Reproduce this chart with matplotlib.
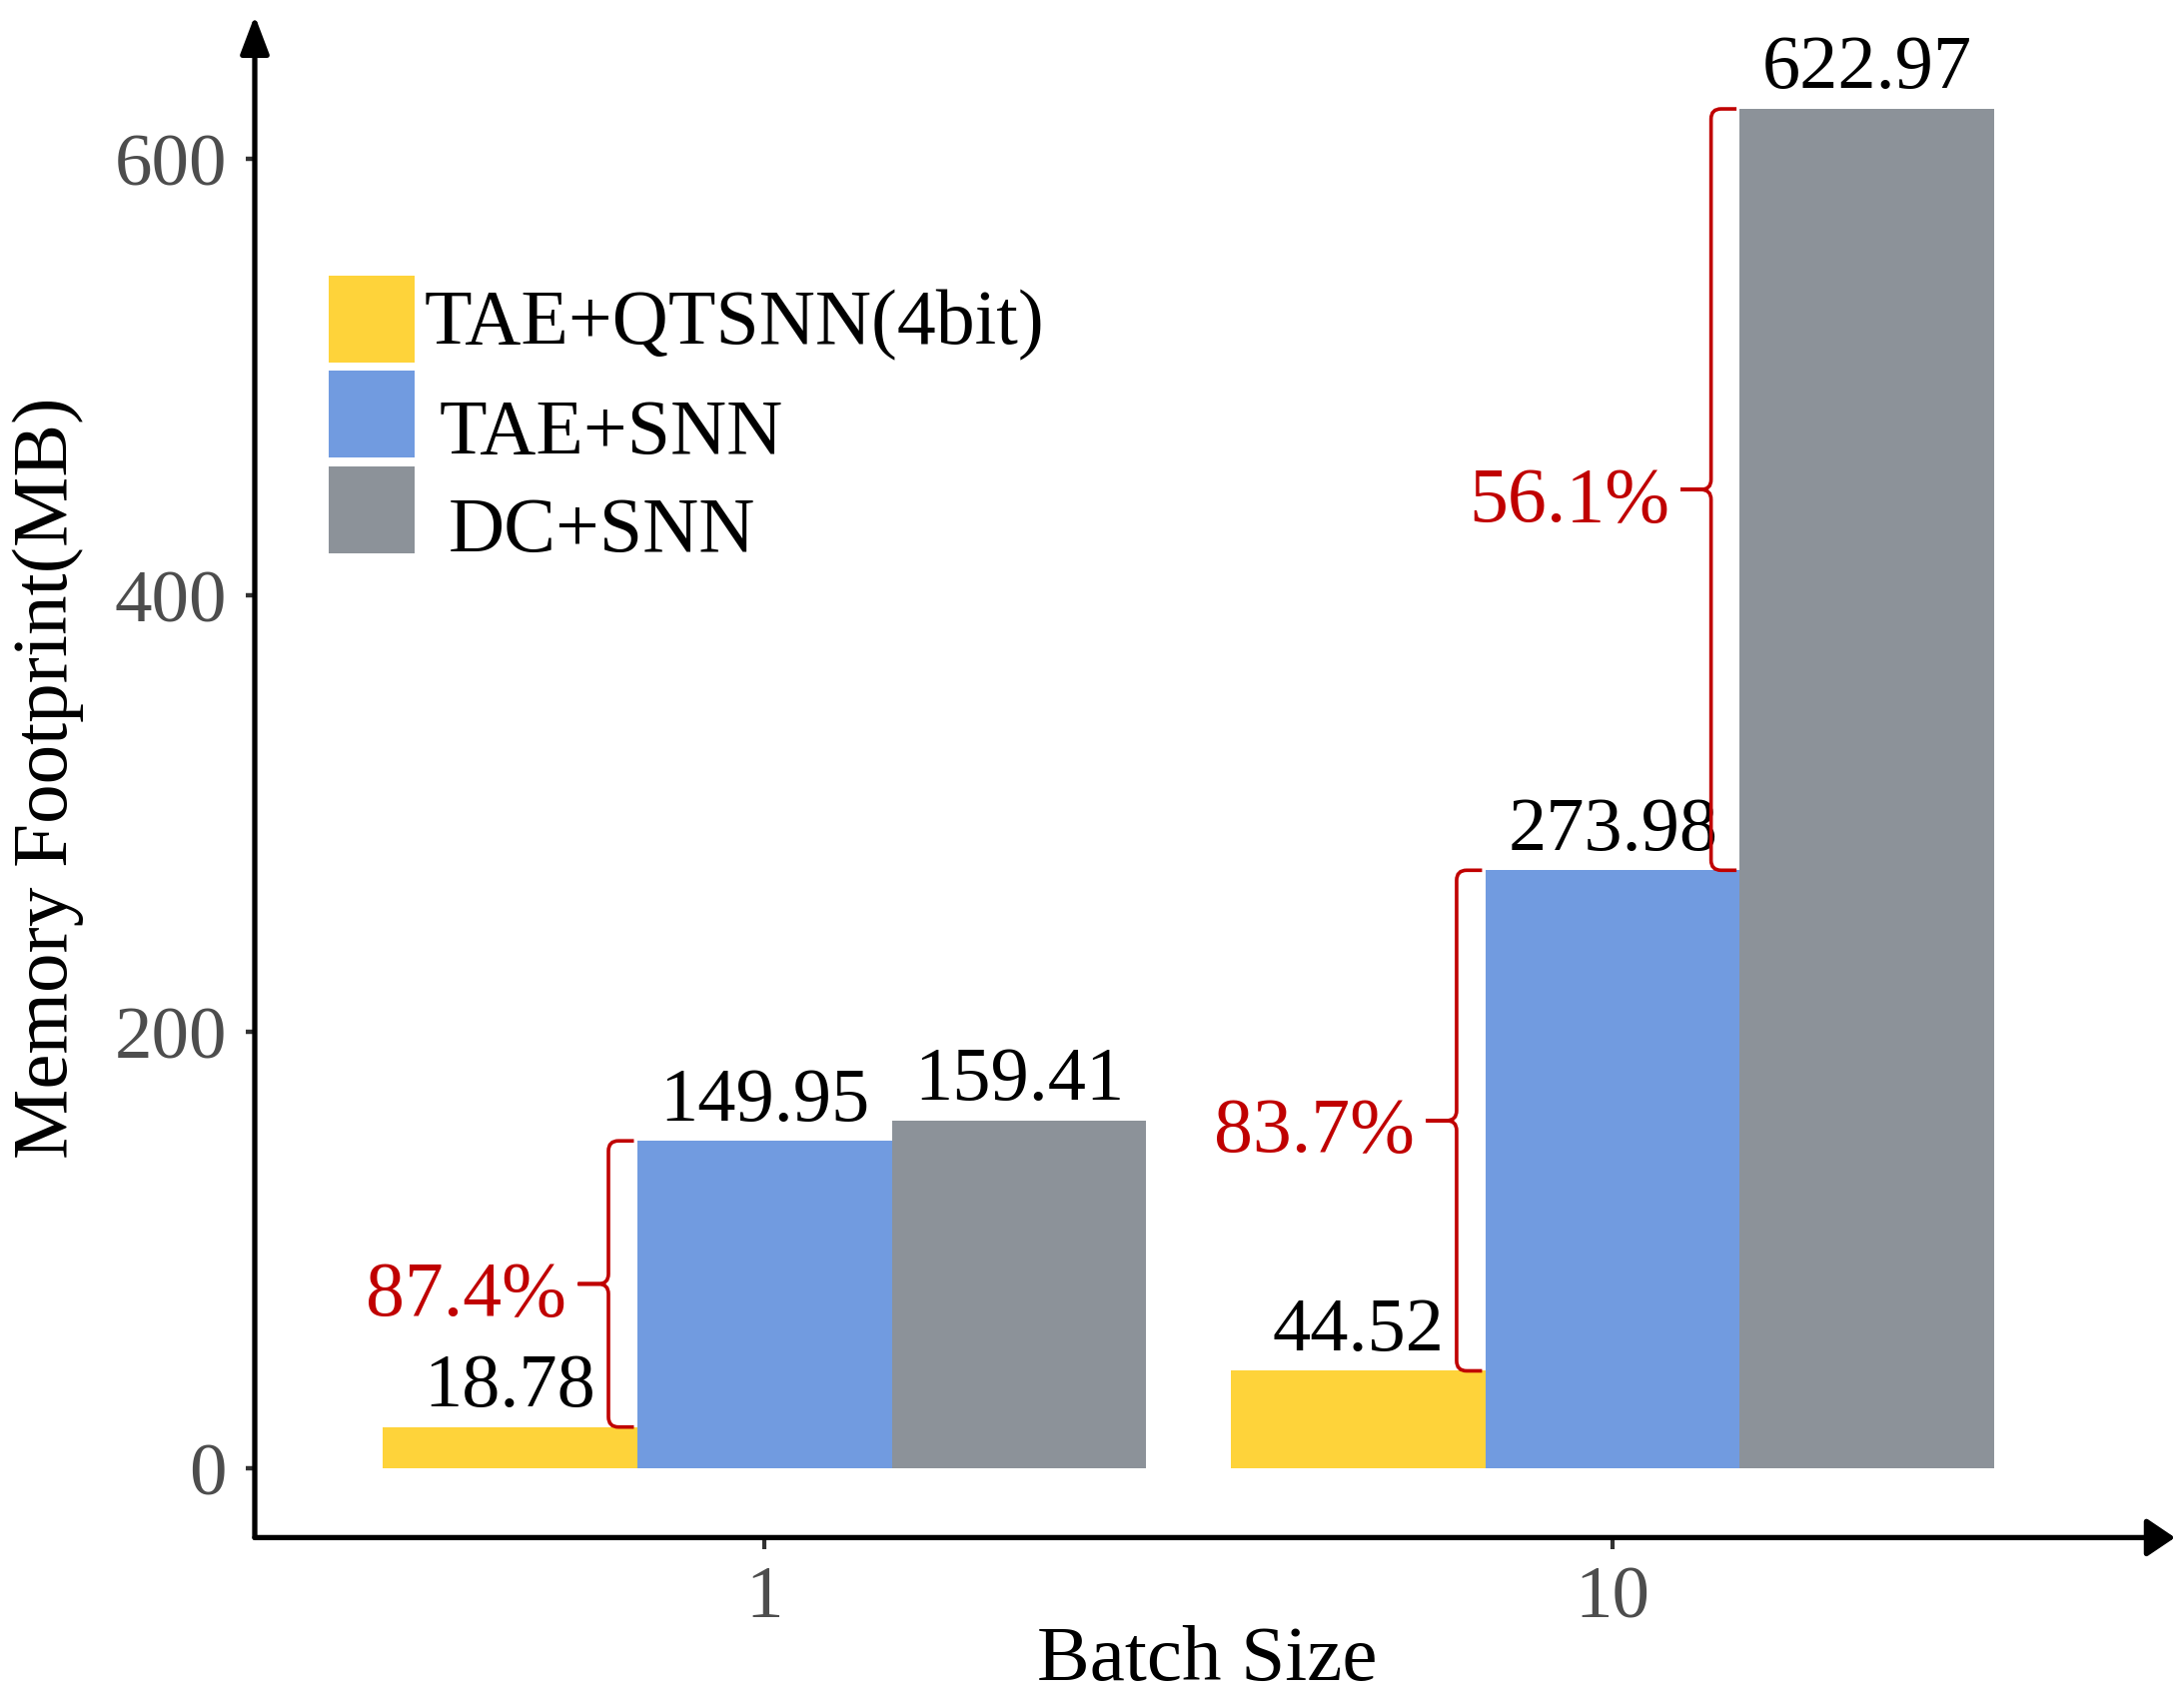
import matplotlib
matplotlib.use("Agg")
import matplotlib.pyplot as plt
import numpy as np
from matplotlib.path import Path
from matplotlib.patches import PathPatch, Rectangle

# ---------------- data ----------------
batch_sizes = ["1", "10"]
series_names = ["TAE+QTSNN(4bit)", "TAE+SNN", "DC+SNN"]
tae_qtsnn = [18.78, 44.52]
tae_snn = [149.95, 273.98]
dc_snn = [159.41, 622.97]
series_colors = ["#FED33A", "#719BE0", "#8C9299"]
y_ticks = [0, 200, 400, 600]
reduction_labels = ["87.4%", "83.7%", "56.1%"]
# (group index, lower series index, upper series index)
brace_pairs = [(0, 0, 1), (1, 0, 1), (1, 1, 2)]

series_values = [tae_qtsnn, tae_snn, dc_snn]

plt.rcParams['font.family'] = ['Liberation Serif', 'DejaVu Serif']

W, H = 2186, 1699
fig = plt.figure(figsize=(W / 100, H / 100), dpi=100)
ax = fig.add_axes([255 / W, 1 - 1540.4 / H, 1922 / W, (1540.4 - 16.7) / H])

bar_w = 0.3
x = np.arange(len(batch_sizes))
offsets = [-bar_w, 0.0, bar_w]

for vals, off, col in zip(series_values, offsets, series_colors):
    bars = ax.bar(x + off, vals, width=bar_w, color=col, linewidth=0, zorder=2)
    for rect, v in zip(bars, vals):
        ax.annotate(f"{v:.2f}", xy=(rect.get_x() + rect.get_width() / 2, v),
                    xytext=(0, 4), textcoords="offset points",
                    ha="center", va="bottom", fontsize=55, color="black")

ax.set_xlim(-0.601, 1.663)
ax.set_ylim(-31.9, 665.7)
ax.set_xticks(x)
ax.set_xticklabels(batch_sizes)
ax.set_yticks(y_ticks)
ax.set_yticklabels([str(t) for t in y_ticks])
for s in ax.spines.values():
    s.set_visible(False)
ax.tick_params(axis="y", length=6.5, width=3.2, color="#333333", pad=13.7,
               labelsize=54, labelcolor="#4D4D4D")
ax.tick_params(axis="x", length=8.6, width=3.0, color="#333333", pad=11,
               labelsize=54, labelcolor="#4D4D4D")

ax.set_xlabel("Batch Size", fontsize=57, color="black")
ax.xaxis.set_label_coords(0.496, -0.057)
ax.set_ylabel("Memory Footprint(MB)", fontsize=57, color="black")
ax.yaxis.set_label_coords(-0.089, 0.5)

# axis arrows
ax.annotate("", xy=(0, 1), xytext=(0, 0), xycoords="axes fraction",
            arrowprops=dict(arrowstyle="-|>,head_length=0.58,head_width=0.22",
                            mutation_scale=40, lw=3.8, color="black",
                            shrinkA=0, shrinkB=0), annotation_clip=False)
ax.annotate("", xy=(1, 0), xytext=(0, 0), xycoords="axes fraction",
            arrowprops=dict(arrowstyle="-|>,head_length=0.43,head_width=0.29",
                            mutation_scale=40, lw=3.8, color="black",
                            shrinkA=0, shrinkB=0), annotation_clip=False)

# curly braces with reduction labels
red = "#C00000"
rx, ry = 0.0118, 4.6      # corner radius in data units (x, y)
gap_line, tip_len = 0.034, 0.036
for (g, lo, hi), lab in zip(brace_pairs, reduction_labels):
    y_lo = series_values[lo][g]
    y_hi = series_values[hi][g]
    edge = x[g] + offsets[hi] - bar_w / 2
    x0 = edge - gap_line
    xe = edge - 0.004
    xt = x0 - tip_len
    ym = (y_lo + y_hi) / 2
    verts = [(xe, y_hi), (x0 + rx, y_hi), (x0, y_hi), (x0, y_hi - ry),
             (x0, ym + ry), (x0, ym), (x0 - rx, ym), (xt, ym),
             (x0 - rx, ym), (x0, ym), (x0, ym - ry),
             (x0, y_lo + ry), (x0, y_lo), (x0 + rx, y_lo), (xe, y_lo)]
    codes = [Path.MOVETO, Path.LINETO, Path.CURVE3, Path.CURVE3,
             Path.LINETO, Path.CURVE3, Path.CURVE3, Path.LINETO,
             Path.LINETO, Path.CURVE3, Path.CURVE3,
             Path.LINETO, Path.CURVE3, Path.CURVE3, Path.LINETO]
    ax.add_patch(PathPatch(Path(verts, codes), fill=False, edgecolor=red,
                           lw=2.6, zorder=3, capstyle="butt"))
    ax.annotate(lab, xy=(xt, ym), xytext=(-8, -22), textcoords="offset points",
                ha="right", va="baseline", fontsize=56, color=red)

# legend (manual, figure pixel coordinates)
patch_tops = [277, 372, 468]
text_x = [425, 440, 449]
text_base = [344, 454, 552]
for name, col, top, tx, tb in zip(series_names, series_colors, patch_tops, text_x, text_base):
    fig.add_artist(Rectangle((329 / W, 1 - (top + 87) / H), 86 / W, 87 / H,
                             transform=fig.transFigure, facecolor=col,
                             edgecolor="none"))
    fig.text(tx / W, 1 - tb / H, name, fontsize=56, color="black",
             ha="left", va="baseline")

fig.savefig("out.png", dpi=100)
